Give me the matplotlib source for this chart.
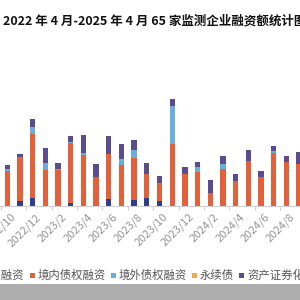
import matplotlib
matplotlib.use('Agg')
import matplotlib.pyplot as plt
import numpy as np
from matplotlib.patches import Rectangle
from matplotlib.transforms import ScaledTranslation

plt.rcParams['font.family'] = ['Noto Sans CJK SC', 'DejaVu Sans']

# ---- data (visible part of the chart) ----
months = ['2022/10', '2022/11', '2022/12',
          '2023/1', '2023/2', '2023/3', '2023/4', '2023/5', '2023/6',
          '2023/7', '2023/8', '2023/9', '2023/10', '2023/11', '2023/12',
          '2024/1', '2024/2', '2024/3', '2024/4', '2024/5', '2024/6',
          '2024/7', '2024/8', '2024/9']
equity    = [0, 50, 73, 0, 0, 23, 0, 0, 63, 0, 57, 73, 50, 0, 0, 0, 0, 0, 0, 0, 0, 0, 0, 0]
domestic  = [347, 433, 643, 357, 357, 600, 503, 290, 453, 410, 417, 240, 174, 617, 317, 333,
             123, 363, 250, 447, 283, 527, 437, 417]
overseas  = [23, 0, 73, 73, 13, 17, 27, 0, 0, 60, 83, 0, 0, 380, 0, 50, 0, 53, 0, 0, 0, 20, 0, 0]
perpetual = [0] * 24
abs_sec   = [40, 37, 77, 150, 53, 60, 177, 127, 180, 143, 97, 110, 70, 67, 67, 57, 133, 80,
             67, 107, 63, 50, 57, 120]
series_names = ['股权融资', '境内债权融资', '境外债权融资', '永续债', '资产证券化']
title = '2022 年 4 月-2025 年 4 月 65 家监测企业融资额统计图'

colors = ['#2f3d8c', '#e2603a', '#6aaedc', '#f2a93b', '#5a4c8e']

fig = plt.figure(figsize=(3, 3), dpi=100)
fig.patch.set_facecolor('white')

ax = fig.add_axes([0, 94.3 / 300, 1, 175.7 / 300])
x = np.arange(len(months))
bottom = np.zeros(len(months))
for vals, c in zip([equity, domestic, overseas, perpetual, abs_sec], colors):
    v = np.array(vals, dtype=float)
    ax.bar(x, v, 0.42, bottom=bottom, color=c, linewidth=0)
    bottom += v

ax.set_xlim(-0.576, 23.08)
ax.set_ylim(0, 1757)
for s in ['left', 'right', 'top']:
    ax.spines[s].set_visible(False)
ax.spines['bottom'].set_color('#d0d0d0')
ax.spines['bottom'].set_linewidth(0.8)
ax.set_yticks([])

lab_idx = list(range(0, len(months), 2))
ax.set_xticks(lab_idx)
ax.set_xticklabels([months[i] for i in lab_idx])
ax.set_xticks([i - 0.5 for i in lab_idx], minor=True)
ax.tick_params(axis='x', which='major', length=0, pad=7, labelsize=8, labelcolor='#959595')
ax.tick_params(axis='x', which='minor', length=3, color='#d0d0d0', width=0.8)
off = ScaledTranslation(0.07, 0, fig.dpi_scale_trans)
for lbl in ax.get_xticklabels():
    lbl.set_rotation(45)
    lbl.set_ha('right')
    lbl.set_va('center')
    lbl.set_rotation_mode('anchor')
    lbl.set_transform(lbl.get_transform() + off)

fig.text(3 / 300, 1 - 21.5 / 300, title, fontsize=9, fontweight='bold', color='#111111',
         ha='left', va='center')

# legend
renderer = fig.canvas.get_renderer()
xpx = -29.0
ypx = 275.5
for name, c in zip(series_names, colors):
    fig.patches.append(Rectangle((xpx / 300, (300 - ypx - 2.5) / 300), 5 / 300, 5 / 300,
                                 transform=fig.transFigure, facecolor=c, edgecolor='none',
                                 figure=fig))
    t = fig.text((xpx + 8) / 300, (300 - ypx) / 300, name, fontsize=8.2, color='#555555',
                 ha='left', va='center')
    w = t.get_window_extent(renderer).width
    xpx = xpx + 8 + w + 5

# gray band at bottom
fig.patches.append(Rectangle((0, 0), 1, 16 / 300, transform=fig.transFigure,
                             facecolor='#adadad', edgecolor='none', figure=fig))

fig.savefig('out.png', dpi=100)
